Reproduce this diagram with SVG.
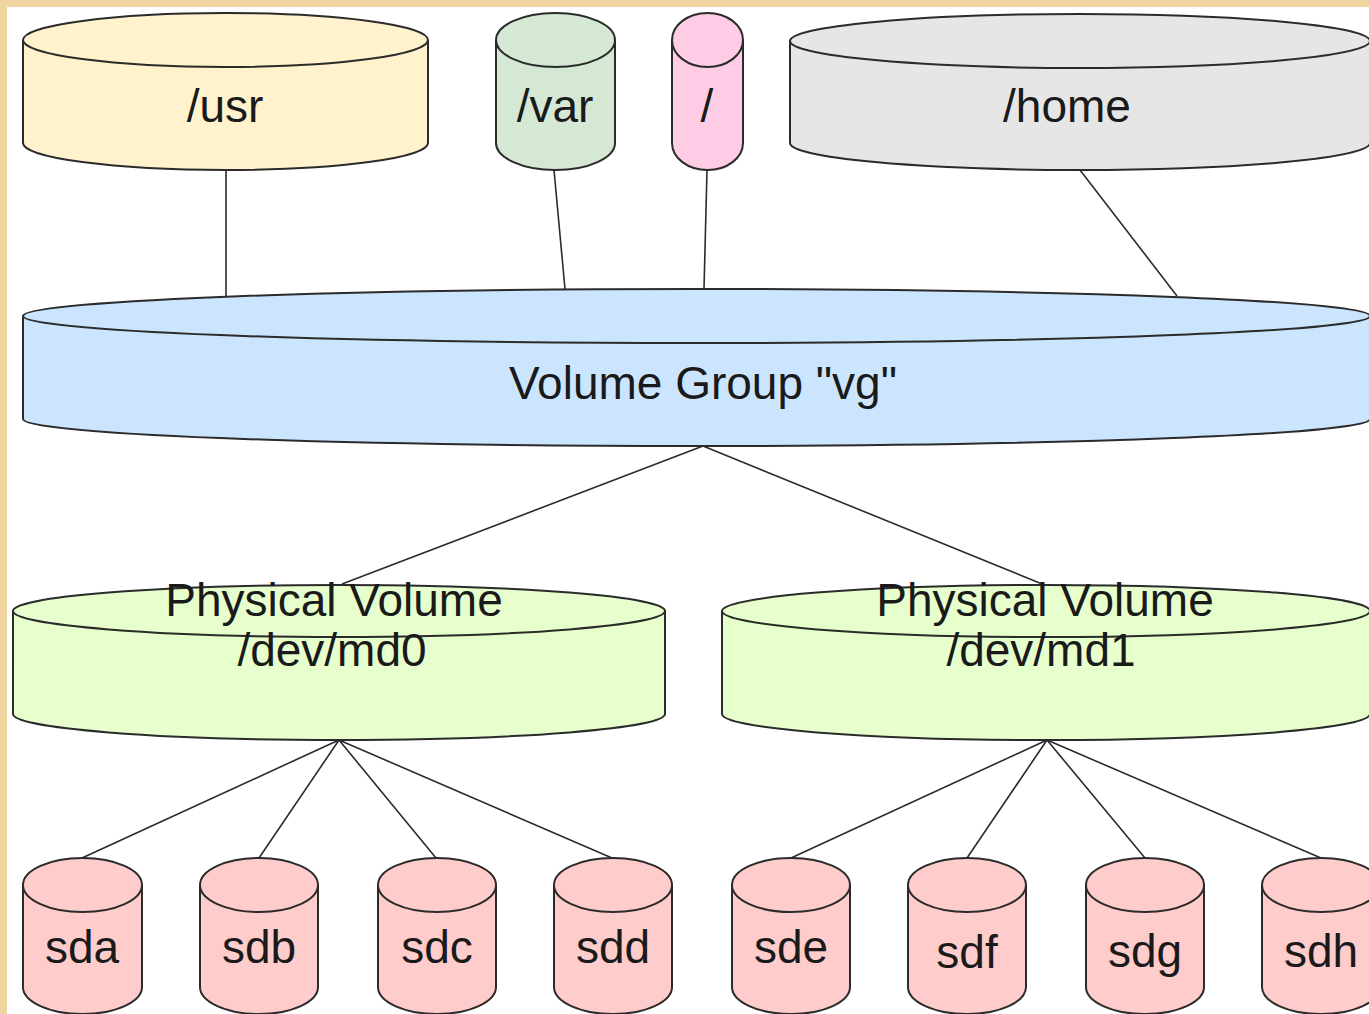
<svg xmlns="http://www.w3.org/2000/svg" width="1369" height="1014" viewBox="0 0 1369 1014">
<style>
.s{stroke:#2b2b2b;stroke-width:2}
.t{font-family:"Liberation Sans",Arial,sans-serif;font-size:46px;fill:#1a1a1a;text-anchor:middle}
.c{stroke:#2b2b2b;stroke-width:1.6;fill:none}
</style>
<rect x="0" y="0" width="1369" height="1014" fill="#efd4a0"/>
<rect x="7" y="7" width="1362" height="1007" fill="#ffffff"/>
<g id="connectors">
<line class="c" x1="226" y1="170" x2="226" y2="296"/>
<line class="c" x1="554" y1="170" x2="565" y2="289"/>
<line class="c" x1="707" y1="170" x2="704" y2="289"/>
<line class="c" x1="1080" y1="170" x2="1177" y2="296"/>
<line class="c" x1="703" y1="446" x2="342" y2="584"/>
<line class="c" x1="703" y1="446" x2="1042" y2="584"/>
<line class="c" x1="339" y1="740" x2="82" y2="858"/>
<line class="c" x1="339" y1="740" x2="259" y2="858"/>
<line class="c" x1="339" y1="740" x2="436" y2="858"/>
<line class="c" x1="339" y1="740" x2="612" y2="858"/>
<line class="c" x1="1047" y1="740" x2="791" y2="858"/>
<line class="c" x1="1047" y1="740" x2="967" y2="858"/>
<line class="c" x1="1047" y1="740" x2="1145" y2="858"/>
<line class="c" x1="1047" y1="740" x2="1321" y2="858"/>
</g>
<g id="usr">
<path class="s" fill="#fff2cc" d="M23,40 A202.5,27 0 0 1 428,40 L428,143 A202.5,27 0 0 1 23,143 Z"/>
<path class="s" fill="none" d="M23,40 A202.5,27 0 0 0 428,40"/>
<text class="t" x="225" y="122">/usr</text>
</g>
<g id="var">
<path class="s" fill="#d5e8d4" d="M496,40 A59.5,27 0 0 1 615,40 L615,143 A59.5,27 0 0 1 496,143 Z"/>
<path class="s" fill="none" d="M496,40 A59.5,27 0 0 0 615,40"/>
<text class="t" x="555" y="122">/var</text>
</g>
<g id="root">
<path class="s" fill="#ffcce6" d="M672,40 A35.5,27 0 0 1 743,40 L743,143 A35.5,27 0 0 1 672,143 Z"/>
<path class="s" fill="none" d="M672,40 A35.5,27 0 0 0 743,40"/>
<text class="t" x="707" y="122">/</text>
</g>
<g id="home">
<path class="s" fill="#e6e6e6" d="M790,41 A290,27 0 0 1 1370,41 L1370,143 A290,27 0 0 1 790,143 Z"/>
<path class="s" fill="none" d="M790,41 A290,27 0 0 0 1370,41"/>
<text class="t" x="1067" y="122">/home</text>
</g>
<g id="vg">
<path class="s" fill="#cce5ff" d="M23,316 A673.5,27 0 0 1 1370,316 L1370,419 A673.5,27 0 0 1 23,419 Z"/>
<path class="s" fill="none" d="M23,316 A673.5,27 0 0 0 1370,316"/>
<text class="t" x="703" y="399">Volume Group "vg"</text>
</g>
<g id="md0">
<path class="s" fill="#e6ffcc" d="M13,611 A326,26 0 0 1 665,611 L665,714 A326,26 0 0 1 13,714 Z"/>
<path class="s" fill="none" d="M13,611 A326,26 0 0 0 665,611"/>
<text class="t" x="334" y="616">Physical Volume</text>
<text class="t" x="332" y="666">/dev/md0</text>
</g>
<g id="md1">
<path class="s" fill="#e6ffcc" d="M722,611 A324,26 0 0 1 1370,611 L1370,714 A324,26 0 0 1 722,714 Z"/>
<path class="s" fill="none" d="M722,611 A324,26 0 0 0 1370,611"/>
<text class="t" x="1045" y="616">Physical Volume</text>
<text class="t" x="1041" y="666">/dev/md1</text>
</g>
<g id="sda">
<path class="s" fill="#ffcccc" d="M23,885 A59.5,27 0 0 1 142,885 L142,987 A59.5,27 0 0 1 23,987 Z"/>
<path class="s" fill="none" d="M23,885 A59.5,27 0 0 0 142,885"/>
<text class="t" x="82" y="963">sda</text>
</g>
<g id="sdb">
<path class="s" fill="#ffcccc" d="M200,885 A59,27 0 0 1 318,885 L318,987 A59,27 0 0 1 200,987 Z"/>
<path class="s" fill="none" d="M200,885 A59,27 0 0 0 318,885"/>
<text class="t" x="259" y="963">sdb</text>
</g>
<g id="sdc">
<path class="s" fill="#ffcccc" d="M378,885 A59,27 0 0 1 496,885 L496,987 A59,27 0 0 1 378,987 Z"/>
<path class="s" fill="none" d="M378,885 A59,27 0 0 0 496,885"/>
<text class="t" x="437" y="963">sdc</text>
</g>
<g id="sdd">
<path class="s" fill="#ffcccc" d="M554,885 A59,27 0 0 1 672,885 L672,987 A59,27 0 0 1 554,987 Z"/>
<path class="s" fill="none" d="M554,885 A59,27 0 0 0 672,885"/>
<text class="t" x="613" y="963">sdd</text>
</g>
<g id="sde">
<path class="s" fill="#ffcccc" d="M732,885 A59,27 0 0 1 850,885 L850,987 A59,27 0 0 1 732,987 Z"/>
<path class="s" fill="none" d="M732,885 A59,27 0 0 0 850,885"/>
<text class="t" x="791" y="963">sde</text>
</g>
<g id="sdf">
<path class="s" fill="#ffcccc" d="M908,885 A59,27 0 0 1 1026,885 L1026,987 A59,27 0 0 1 908,987 Z"/>
<path class="s" fill="none" d="M908,885 A59,27 0 0 0 1026,885"/>
<text class="t" x="967" y="968">sdf</text>
</g>
<g id="sdg">
<path class="s" fill="#ffcccc" d="M1086,885 A59,27 0 0 1 1204,885 L1204,987 A59,27 0 0 1 1086,987 Z"/>
<path class="s" fill="none" d="M1086,885 A59,27 0 0 0 1204,885"/>
<text class="t" x="1145" y="967">sdg</text>
</g>
<g id="sdh">
<path class="s" fill="#ffcccc" d="M1262,885 A59,27 0 0 1 1380,885 L1380,987 A59,27 0 0 1 1262,987 Z"/>
<path class="s" fill="none" d="M1262,885 A59,27 0 0 0 1380,885"/>
<text class="t" x="1321" y="967">sdh</text>
</g>
</svg>
